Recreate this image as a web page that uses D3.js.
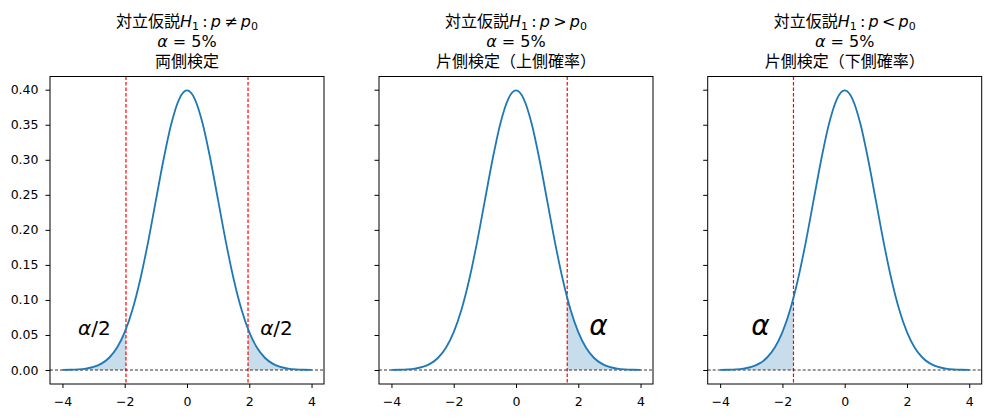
<!DOCTYPE html>
<html><head><meta charset="utf-8">
<script src="https://cdn.jsdelivr.net/npm/d3@7"></script>
<style>
body{margin:0;background:#fff}
text{font-family:"DejaVu Sans","Noto Sans CJK JP",sans-serif;fill:#000}
</style>
</head><body>
<svg id="c" width="990" height="418"></svg>
<script>
// ---- data ----
const xVals = [-4,-3.75,-3.5,-3.25,-3,-2.75,-2.5,-2.25,-2,-1.75,-1.5,-1.25,-1,-0.75,-0.5,-0.25,0,
               0.25,0.5,0.75,1,1.25,1.5,1.75,2,2.25,2.5,2.75,3,3.25,3.5,3.75,4];
const densityVals = [0.0001,0.0004,0.0009,0.0020,0.0044,0.0091,0.0175,0.0317,0.0540,0.0863,0.1295,0.1826,0.2420,0.3011,0.3521,0.3867,0.3989,
                     0.3867,0.3521,0.3011,0.2420,0.1826,0.1295,0.0863,0.0540,0.0317,0.0175,0.0091,0.0044,0.0020,0.0009,0.0004,0.0001];
const hypothesisOps = ["≠", ">", "<"];
const panelSubtitles = ["両側検定", "片側検定（上側確率）", "片側検定（下側確率）"];
const criticalX = [[-1.96, 1.96], [1.645], [-1.645]];
const criticalY = [[0.0584, 0.0584], [0.1031], [0.1031]];
const tailRanges = [[[-4, -1.96], [1.96, 4]], [[1.645, 4]], [[-4, -1.645]]];
const labelTexts = [["α/2", "α/2"], ["α"], ["α"]];
const labelX = [[-3.5, 2.35], [2.35], [-3.0]];
const labelY = [[0.05, 0.05], [0.05], [0.05]];
const xTicks = [-4, -2, 0, 2, 4];
const yTicks = [0, 0.05, 0.10, 0.15, 0.20, 0.25, 0.30, 0.35, 0.40];

// ---- layout ----
const svg = d3.select("#c");
const lefts = [50, 379, 707.7];
const W = 274, topY = 76.5, H = 307.5;
const blue = "#1f77b4";
const pts = xVals.map((x, i) => [x, densityVals[i]]);

lefts.forEach((L, k) => {
  const x = d3.scaleLinear().domain([-4.4, 4.4]).range([0, W]);
  const y = d3.scaleLinear().domain([-0.01995, 0.41884]).range([H, 0]);
  const g = svg.append("g").attr("transform", `translate(${L},${topY})`);

  // fills
  tailRanges[k].forEach(([a, b], j) => {
    const cx = criticalX[k][j], cy = criticalY[k][j];
    let seg = pts.filter(p => p[0] >= a - 1e-9 && p[0] <= b + 1e-9);
    seg.push([cx, cy]);
    seg.sort((p, q) => p[0] - q[0]);
    const area = d3.area().x(d => x(d[0])).y0(y(0)).y1(d => y(d[1])).curve(d3.curveMonotoneX);
    g.append("path").attr("d", area(seg)).attr("fill", blue).attr("fill-opacity", 0.25);
  });

  // critical lines
  criticalX[k].forEach(cx => {
    g.append("line").attr("x1", x(cx)).attr("x2", x(cx)).attr("y1", 0).attr("y2", H)
      .attr("stroke", "#ff0000").attr("stroke-width", 1.2)
      .attr("stroke-dasharray", "3.5,2");
  });
  // zero line
  g.append("line").attr("x1", 0).attr("x2", W).attr("y1", y(0)).attr("y2", y(0))
    .attr("stroke", "#000").attr("stroke-width", 0.8).attr("stroke-dasharray", "3,2");

  // curve
  const line = d3.line().x(d => x(d[0])).y(d => y(d[1])).curve(d3.curveMonotoneX);
  g.append("path").attr("d", line(pts)).attr("fill", "none").attr("stroke", blue).attr("stroke-width", 1.8);

  // labels
  labelTexts[k].forEach((t, j) => {
    const fs = t.length > 1 ? 20 : 28;
    const tx = g.append("text").attr("x", x(labelX[k][j])).attr("y", y(labelY[k][j]))
      .attr("font-size", fs);
    tx.append("tspan").attr("font-style", "italic").text(t[0]);
    if (t.length > 1) tx.append("tspan").text(t.slice(1));
  });

  // axes
  const xa = g.append("g").attr("transform", `translate(0,${H})`)
    .call(d3.axisBottom(x).tickValues(xTicks).tickSize(4).tickPadding(9)
      .tickFormat(d => d < 0 ? "\u2212" + Math.abs(d) : String(d)));
  const ya = g.append("g")
    .call(d3.axisLeft(y).tickValues(yTicks).tickSize(4.5).tickPadding(7)
      .tickFormat(k === 0 ? d3.format(".2f") : () => ""));
  [xa, ya].forEach(a => {
    a.attr("font-size", 12.5);
    a.select(".domain").remove();
    a.selectAll("line").attr("stroke", "#000").attr("stroke-width", 1);
    a.selectAll("text").attr("font-size", 12.5).attr("fill", "#000")
      .style("font-family", "'DejaVu Sans',sans-serif");
  });
  xa.selectAll("text").attr("dy", "0.71em");
  g.append("rect").attr("width", W).attr("height", H).attr("fill", "none")
    .attr("stroke", "#000").attr("stroke-width", 1);

  // title
  const cxm = L + W / 2;
  const t1 = svg.append("text").attr("x", cxm).attr("y", 26.5).attr("text-anchor", "middle").attr("font-size", 16);
  t1.append("tspan").text("対立仮説");
  t1.append("tspan").attr("font-style", "italic").text("H");
  t1.append("tspan").attr("font-size", 11).attr("dy", 3.5).text("1");
  t1.append("tspan").attr("dy", -3.5).text("\u2009:\u2009");
  t1.append("tspan").attr("font-style", "italic").text("p");
  t1.append("tspan").text("\u2009" + hypothesisOps[k] + "\u2009");
  t1.append("tspan").attr("font-style", "italic").text("p");
  t1.append("tspan").attr("font-size", 11).attr("dy", 3.5).text("0");
  const t2 = svg.append("text").attr("x", cxm).attr("y", 47).attr("text-anchor", "middle").attr("font-size", 16);
  t2.append("tspan").attr("font-style", "italic").text("α");
  t2.append("tspan").text(" = 5%");
  svg.append("text").attr("x", cxm).attr("y", 66.5).attr("text-anchor", "middle").attr("font-size", 16)
    .text(panelSubtitles[k]);
});
</script>
</body></html>
